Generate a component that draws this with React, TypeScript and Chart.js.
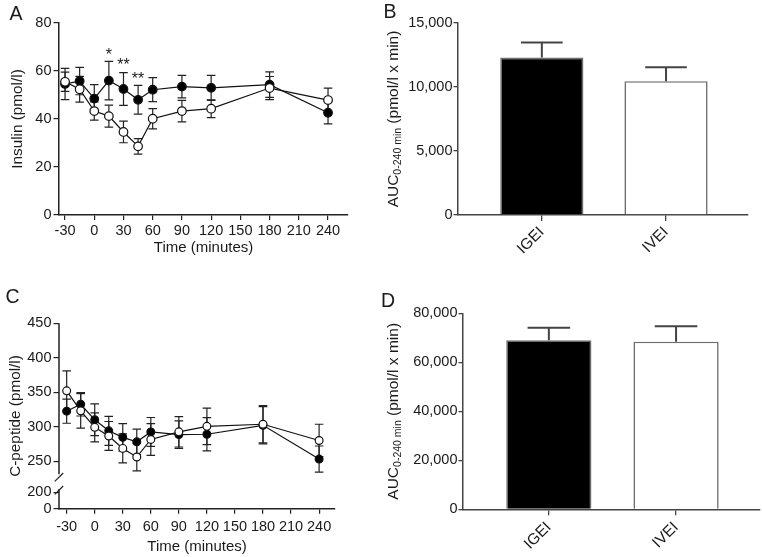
import React, { useEffect, useRef } from "react";
import { Chart, registerables } from "chart.js";

Chart.register(...registerables);

const FONT = "'Liberation Sans', Arial, Helvetica, sans-serif";
const TEXT = "#1a1a1a";
const AXIS = "#222222";
const AXIS_BAR = "#444444";

// ---------------- data ----------------
const times = [-30, -15, 0, 15, 30, 45, 60, 90, 120, 180, 240];
const timeTicks = [-30, 0, 30, 60, 90, 120, 150, 180, 210, 240];

// Panel A: insulin (pmol/l)
const insulinIGEI = [54.6, 55.8, 48.5, 56, 52.5, 48, 52.2, 53.5, 53, 54.3, 42.6];
const insulinIGEIErr = [6.5, 5.7, 5.8, 8, 6.8, 6, 5, 4.7, 5.2, 5.3, 4.6];
const insulinIVEI = [55.5, 52.4, 43.3, 41.2, 34.6, 28.6, 40.1, 43.3, 44.3, 52.9, 47.9];
const insulinIVEIErr = [4, 5.4, 3.8, 4.6, 4.5, 3.2, 4.2, 4.5, 3.7, 4.8, 5];
const insulinTicks = [0, 20, 40, 60, 80];
const sigTimes = [15, 30, 45];
const sigMarks = ["*", "**", "**"];
const sigLevels = [68.5, 64.3, 58.3];

// Panel C: C-peptide (pmol/l)
const cpepIGEI = [322.5, 332.5, 310, 294, 284.5, 278, 292.3, 288.5, 289, 302, 253];
const cpepIGEIErr = [17.5, 17, 23, 21, 20, 18.5, 21, 20, 24, 27, 19];
const cpepIVEI = [352, 323, 299, 286.5, 268.5, 256, 281.5, 292.5, 300.5, 303.5, 280];
const cpepIVEIErr = [29, 25, 21, 21, 21, 20, 23, 22, 26.5, 27, 23.5];
const cpepTicks = [0, 200, 250, 300, 350, 400, 450];

// Panels B and D: AUC 0-240 min
const groups = ["IGEI", "IVEI"];
const aucInsulin = [12300, 10450];
const aucInsulinErr = [1170, 1100];
const aucInsulinTicks = [0, 5000, 10000, 15000];
const aucCpep = [69000, 68400];
const aucCpepErr = [5100, 6300];
const aucCpepTicks = [0, 20000, 40000, 60000, 80000];

// broken C-peptide axis: values 0..200 are compressed into a short segment
const CP_ZERO = 181;
const CP_200 = 205;
function cpepAxis(v: number) {
  return v >= 225 ? v : CP_ZERO + (v * (CP_200 - CP_ZERO)) / 200;
}
const identity = (v: number) => v;

// ---------------- layout ----------------
type Box = { x: number; y: number; w: number; h: number; left: number; top: number; right: number; bottom: number };
const boxA: Box = { x: 0, y: 0, w: 381, h: 275, left: 59, top: 23, right: 348, bottom: 215 };
const boxB: Box = { x: 381, y: 0, w: 381, h: 275, left: 77, top: 23, right: 367, bottom: 215 };
const boxC: Box = { x: 0, y: 280, w: 381, h: 277, left: 59, top: 43.3, right: 335, bottom: 228.7 };
const boxD: Box = { x: 381, y: 280, w: 381, h: 277, left: 82, top: 33.3, right: 379, bottom: 229.3 };

const pad = (b: Box) => ({ left: 0, top: b.top, right: b.w - b.right, bottom: 0 });
const font = (size: number) => ({ family: FONT, size });

// ---------------- plugins ----------------
function drawErrors(chart: any, after: boolean) {
  const { ctx } = chart;
  const ys = chart.scales.y;
  chart.data.datasets.forEach((ds: any, di: number) => {
    if (!ds.errHigh || !!ds.errAfter !== after) return;
    const meta = chart.getDatasetMeta(di);
    ctx.save();
    ctx.strokeStyle = ds.errColor;
    ctx.lineWidth = ds.errWidth;
    ctx.beginPath();
    meta.data.forEach((el: any, i: number) => {
      const x = el.x;
      const yHi = ys.getPixelForValue(ds.errHigh[i]);
      const yLo = ds.errLow ? ys.getPixelForValue(ds.errLow[i]) : el.y;
      const cap = ds.capHalf != null ? ds.capHalf : el.width / 4;
      ctx.moveTo(x, yLo);
      ctx.lineTo(x, yHi);
      ctx.moveTo(x - cap, yHi);
      ctx.lineTo(x + cap, yHi);
      if (ds.errLow) {
        ctx.moveTo(x - cap, yLo);
        ctx.lineTo(x + cap, yLo);
      }
    });
    ctx.stroke();
    ctx.restore();
  });
}
const errorBars = {
  id: "errorBars",
  beforeDatasetsDraw(chart: any) {
    drawErrors(chart, false);
  },
  afterDatasetsDraw(chart: any) {
    drawErrors(chart, true);
  },
};

const significance = {
  id: "significance",
  afterDatasetsDraw(chart: any) {
    const { ctx } = chart;
    const xs = chart.scales.x;
    const ys = chart.scales.y;
    ctx.save();
    ctx.fillStyle = TEXT;
    ctx.font = `16px ${FONT}`;
    ctx.textAlign = "center";
    ctx.textBaseline = "alphabetic";
    sigTimes.forEach((t, i) => {
      ctx.fillText(sigMarks[i], xs.getPixelForValue(t), ys.getPixelForValue(sigLevels[i]) + 9.3);
    });
    ctx.restore();
  },
};

const brokenAxis = {
  id: "brokenAxis",
  afterDraw(chart: any) {
    const { ctx } = chart;
    const ys = chart.scales.y;
    const x = chart.chartArea.left;
    const pTop = ys.getPixelForValue(cpepAxis(450));
    const p200 = ys.getPixelForValue(cpepAxis(200));
    const p0 = ys.getPixelForValue(cpepAxis(0));
    ctx.save();
    ctx.strokeStyle = AXIS;
    ctx.lineWidth = 1.5;
    ctx.beginPath();
    ctx.moveTo(x, pTop);
    ctx.lineTo(x, p200 - 18);
    ctx.moveTo(x, p200 - 3);
    ctx.lineTo(x, p0 + 0.75);
    ctx.stroke();
    ctx.lineWidth = 1.2;
    ctx.beginPath();
    [p200 - 15, p200 - 2].forEach((cy) => {
      ctx.moveTo(x - 4.2, cy + 4.2);
      ctx.lineTo(x + 4.2, cy - 4.2);
    });
    ctx.stroke();
    ctx.restore();
  },
};

function aucTitle(centerX: number) {
  return {
    id: "aucTitle",
    afterDraw(chart: any) {
      const { ctx } = chart;
      const area = chart.chartArea;
      const cy = (area.top + area.bottom) / 2;
      const parts: [string, number, number][] = [
        ["AUC", 15.5, 0],
        ["0-240 min", 10.5, 3.5],
        [" (pmol/l x min)", 15.5, 0],
      ];
      ctx.save();
      ctx.fillStyle = TEXT;
      ctx.textAlign = "left";
      ctx.textBaseline = "alphabetic";
      const widths = parts.map(([t, s]) => {
        ctx.font = `${s}px ${FONT}`;
        return ctx.measureText(t).width;
      });
      const total = widths.reduce((a, b) => a + b, 0);
      ctx.translate(centerX, cy);
      ctx.rotate(-Math.PI / 2);
      let px = -total / 2;
      parts.forEach(([t, s, dy], i) => {
        ctx.font = `${s}px ${FONT}`;
        ctx.fillText(t, px, 5.5 + dy);
        px += widths[i];
      });
      ctx.restore();
    },
  };
}

// ---------------- configs ----------------
type TCOpts = {
  box: Box;
  xMin: number;
  xMax: number;
  yMin: number;
  yMax: number;
  yTicks: number[];
  mapY: (v: number) => number;
  igei: number[];
  igeiErr: number[];
  ivei: number[];
  iveiErr: number[];
  yTitle: string;
  yTitlePad: number;
  xTitlePad: number;
  xTickPad: number;
  radius: number;
  customYBorder: boolean;
  plugins: any[];
};

function timeCourseConfig(o: TCOpts): any {
  const series = (vals: number[], errs: number[], fillColor: string, label: string) => ({
    label,
    data: vals.map((v, i) => ({ x: times[i], y: o.mapY(v) })),
    errHigh: vals.map((v, i) => o.mapY(v + errs[i])),
    errLow: vals.map((v, i) => o.mapY(v - errs[i])),
    errColor: AXIS,
    errWidth: 1.2,
    capHalf: 4.3,
    borderColor: "#111",
    borderWidth: 1.2,
    pointRadius: o.radius,
    pointBorderWidth: 1.2,
    pointBorderColor: "#111",
    pointBackgroundColor: fillColor,
    fill: false,
    tension: 0,
  });
  return {
    type: "line",
    data: {
      datasets: [
        series(o.ivei, o.iveiErr, "#ffffff", "IVEI"),
        series(o.igei, o.igeiErr, "#000000", "IGEI"),
      ],
    },
    options: {
      responsive: false,
      animation: false,
      layout: { padding: pad(o.box) },
      plugins: { legend: { display: false }, tooltip: { enabled: false } },
      scales: {
        x: {
          type: "linear",
          min: o.xMin,
          max: o.xMax,
          afterBuildTicks: (s: any) => {
            s.ticks = timeTicks.map((v) => ({ value: v }));
          },
          afterFit: (s: any) => {
            s.height = o.box.h - o.box.bottom;
          },
          ticks: {
            autoSkip: false,
            maxRotation: 0,
            minRotation: 0,
            padding: o.xTickPad,
            color: TEXT,
            font: font(14.5),
            callback: (v: any) => String(v),
          },
          grid: { display: true, drawOnChartArea: false, drawTicks: true, tickLength: 5, color: AXIS, lineWidth: 1.2 },
          border: { display: true, color: AXIS, width: 1.5 },
          title: {
            display: true,
            text: "Time (minutes)",
            color: TEXT,
            font: font(15),
            padding: { top: 0, bottom: o.xTitlePad },
          },
        },
        y: {
          type: "linear",
          min: o.yMin,
          max: o.yMax,
          afterBuildTicks: (s: any) => {
            s.ticks = o.yTicks.map((v) => ({ value: o.mapY(v) }));
          },
          afterFit: (s: any) => {
            s.width = o.box.left;
          },
          ticks: {
            autoSkip: false,
            padding: 2,
            color: TEXT,
            font: font(14.5),
            callback: (_v: any, i: number) => String(o.yTicks[i]),
          },
          grid: { display: true, drawOnChartArea: false, drawTicks: true, tickLength: 5.5, color: AXIS, lineWidth: 1.2 },
          border: { display: !o.customYBorder, color: AXIS, width: 1.5 },
          title: {
            display: true,
            text: o.yTitle,
            color: TEXT,
            font: font(15.3),
            padding: { top: o.yTitlePad, bottom: 0 },
          },
        },
      },
    },
    plugins: [errorBars, ...o.plugins],
  };
}

type AucOpts = {
  box: Box;
  values: number[];
  errors: number[];
  yMax: number;
  yTicks: number[];
  xTickPad: number;
};

function aucConfig(o: AucOpts): any {
  return {
    type: "bar",
    data: {
      datasets: [
        {
          data: o.values.map((v, i) => ({ x: i, y: v })),
          errHigh: o.values.map((v, i) => v + o.errors[i]),
          errAfter: true,
          errColor: "#444",
          errWidth: 2,
          backgroundColor: ["#000000", "#ffffff"],
          borderColor: "#6e6e6e",
          borderWidth: 1.6,
          barPercentage: 0.67,
          categoryPercentage: 1,
        },
      ],
    },
    options: {
      responsive: false,
      animation: false,
      layout: { padding: pad(o.box) },
      plugins: { legend: { display: false }, tooltip: { enabled: false } },
      scales: {
        x: {
          type: "linear",
          min: -0.675,
          max: 1.66,
          offset: false,
          afterBuildTicks: (s: any) => {
            s.ticks = groups.map((_g, i) => ({ value: i }));
          },
          afterFit: (s: any) => {
            s.height = o.box.h - o.box.bottom;
          },
          ticks: {
            autoSkip: false,
            minRotation: 45,
            maxRotation: 45,
            padding: o.xTickPad,
            color: TEXT,
            font: font(15.5),
            callback: (v: any) => groups[v],
          },
          grid: { display: true, offset: false, drawOnChartArea: false, drawTicks: true, tickLength: 6, color: AXIS_BAR, lineWidth: 1.3 },
          border: { display: true, color: AXIS_BAR, width: 1.5 },
        },
        y: {
          type: "linear",
          min: 0,
          max: o.yMax,
          afterBuildTicks: (s: any) => {
            s.ticks = o.yTicks.map((v) => ({ value: v }));
          },
          afterFit: (s: any) => {
            s.width = o.box.left;
          },
          ticks: {
            autoSkip: false,
            padding: 1,
            color: TEXT,
            font: font(14.5),
            callback: (v: any) => Number(v).toLocaleString("en-US"),
          },
          grid: { display: true, drawOnChartArea: false, drawTicks: true, tickLength: 4.5, color: AXIS_BAR, lineWidth: 1.3 },
          border: { display: true, color: AXIS_BAR, width: 1.5 },
        },
      },
    },
    plugins: [errorBars, aucTitle(11)],
  };
}

// ---------------- components ----------------
function Panel({ box, make }: { box: Box; make: () => any }) {
  const ref = useRef<HTMLCanvasElement | null>(null);
  useEffect(() => {
    if (!ref.current) return;
    const chart = new Chart(ref.current, make());
    return () => chart.destroy();
  }, []);
  return (
    <div style={{ position: "absolute", left: box.x, top: box.y, width: box.w, height: box.h }}>
      <canvas ref={ref} width={box.w} height={box.h} style={{ width: box.w, height: box.h, display: "block" }} />
    </div>
  );
}

const letterStyle = (left: number, top: number): React.CSSProperties => ({
  position: "absolute",
  left,
  top,
  fontFamily: FONT,
  fontSize: 19.5,
  lineHeight: "19.5px",
  color: TEXT,
  margin: 0,
});

export default function App() {
  return (
    <div style={{ position: "absolute", left: 0, top: 0, width: 762, height: 557, background: "#fff", overflow: "hidden" }}>
      <Panel
        box={boxA}
        make={() =>
          timeCourseConfig({
            box: boxA,
            xMin: -36.2,
            xMax: 260.5,
            yMin: 0,
            yMax: 80,
            yTicks: insulinTicks,
            mapY: identity,
            igei: insulinIGEI,
            igeiErr: insulinIGEIErr,
            ivei: insulinIVEI,
            iveiErr: insulinIVEIErr,
            yTitle: "Insulin (pmol/l)",
            yTitlePad: 9,
            xTitlePad: 18,
            xTickPad: 2,
            radius: 4.3,
            customYBorder: false,
            plugins: [significance],
          })
        }
      />
      <Panel
        box={boxB}
        make={() =>
          aucConfig({ box: boxB, values: aucInsulin, errors: aucInsulinErr, yMax: 15000, yTicks: aucInsulinTicks, xTickPad: 2 })
        }
      />
      <Panel
        box={boxC}
        make={() =>
          timeCourseConfig({
            box: boxC,
            xMin: -38.2,
            xMax: 257,
            yMin: CP_ZERO,
            yMax: 450,
            yTicks: cpepTicks,
            mapY: cpepAxis,
            igei: cpepIGEI,
            igeiErr: cpepIGEIErr,
            ivei: cpepIVEI,
            iveiErr: cpepIVEIErr,
            yTitle: "C-peptide (pmol/l)",
            yTitlePad: 7,
            xTitlePad: 1.3,
            xTickPad: 4.3,
            radius: 3.9,
            customYBorder: true,
            plugins: [brokenAxis],
          })
        }
      />
      <Panel
        box={boxD}
        make={() =>
          aucConfig({ box: boxD, values: aucCpep, errors: aucCpepErr, yMax: 80000, yTicks: aucCpepTicks, xTickPad: 3 })
        }
      />
      <div style={letterStyle(9.5, 4)}>A</div>
      <div style={letterStyle(383.5, 2)}>B</div>
      <div style={letterStyle(5.5, 287)}>C</div>
      <div style={letterStyle(381, 291)}>D</div>
    </div>
  );
}
